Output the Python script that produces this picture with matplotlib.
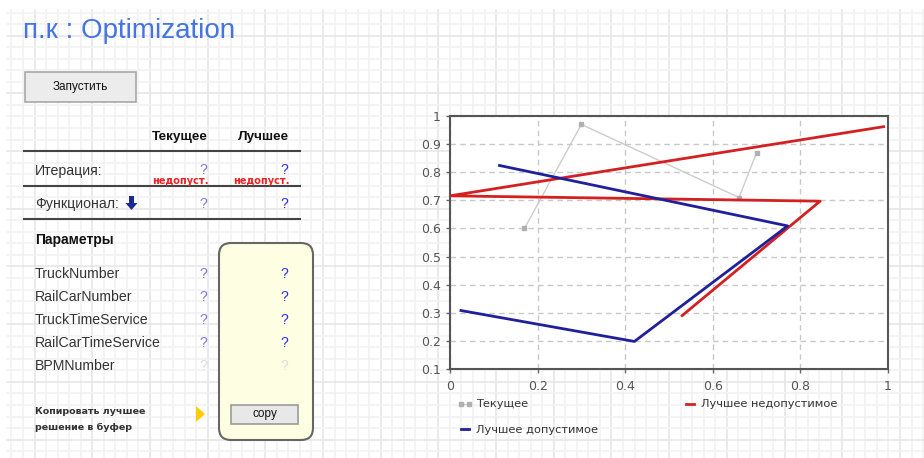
import numpy as np
import matplotlib
matplotlib.use("Agg")
import matplotlib.pyplot as plt
from matplotlib.patches import Rectangle, FancyBboxPatch, Polygon

# chart data
current_x = [0.17, 0.30, 0.66, 0.70]
current_y = [0.60, 0.97, 0.71, 0.87]
best_infeasible_x = [0.53, 0.845, 0.0, 0.99]
best_infeasible_y = [0.29, 0.697, 0.716, 0.962]
best_feasible_x = [0.113, 0.771, 0.421, 0.025]
best_feasible_y = [0.824, 0.609, 0.198, 0.308]

x_ticks = [0, 0.2, 0.4, 0.6, 0.8, 1]
x_tick_labels = ["0", "0.2", "0.4", "0.6", "0.8", "1"]
y_ticks = [0.1, 0.2, 0.3, 0.4, 0.5, 0.6, 0.7, 0.8, 0.9, 1]
y_tick_labels = ["0.1", "0.2", "0.3", "0.4", "0.5", "0.6", "0.7", "0.8", "0.9", "1"]

legend_labels = ["Текущее", "Лучшее допустимое", "Лучшее недопустимое"]

# left panel texts
title = "п.к : Optimization"
run_label = "Запустить"
col_headers = ["Текущее", "Лучшее"]
parameters = ["TruckNumber", "RailCarNumber", "TruckTimeService",
              "RailCarTimeService", "BPMNumber"]

W, H = 924, 458
fig = plt.figure(figsize=(W / 100, H / 100), dpi=100)
fig.patch.set_facecolor("white")

# background canvas in pixel coordinates
bg = fig.add_axes([0, 0, 1, 1])
bg.set_xlim(0, W)
bg.set_ylim(H, 0)
bg.axis("off")

step = 11.54
xs = np.arange(34.5 - 2 * step, W, step)
ys = np.arange(12.6, H, step)
for i, x in enumerate(xs):
    major = (i - 2) % 5 == 0
    bg.plot([x, x], [10, H], color="#e6e6e6" if major else "#f2f2f2",
            lw=1.2, zorder=0)
for i, y in enumerate(ys):
    major = (i - 2) % 5 == 0
    bg.plot([7, W], [y, y], color="#e6e6e6" if major else "#f2f2f2",
            lw=1.2, zorder=0)

# title
bg.text(23, 31, title, fontsize=20, color="#4473e3", va="center",
        family="Liberation Sans")

# run button
bg.add_patch(Rectangle((25, 72), 111, 30, facecolor="#ececec",
                       edgecolor="#a8a8a8", lw=1.2, zorder=2))
bg.text(80.5, 87, run_label, fontsize=8.5, ha="center", va="center",
        family="Liberation Sans", color="#111111", zorder=3)

# table header
bg.text(180, 137, col_headers[0], fontsize=9.7, fontweight="bold",
        ha="center", va="center", family="Liberation Sans", color="#111111")
bg.text(263, 137, col_headers[1], fontsize=9.7, fontweight="bold",
        ha="center", va="center", family="Liberation Sans", color="#111111")
for y in [151, 186, 219]:
    bg.plot([24, 300], [y, y], color="#444444", lw=1.5, zorder=2)

label_kw = dict(fontsize=10.2, va="center", family="Liberation Sans",
                color="#333333")
q_cur = "#7777dd"
q_best = "#2a2aff"
q_kw = dict(fontsize=10, va="center", ha="center", family="Liberation Sans")

bg.text(35, 171, "Итерация:", **label_kw)
bg.text(203, 170, "?", color=q_cur, **q_kw)
bg.text(284, 170, "?", color=q_best, **q_kw)
for cx in [180, 261]:
    bg.text(cx, 181, "недопуст.", fontsize=7, fontweight="bold",
            color="#ee2020", ha="center", va="center",
            family="DejaVu Sans")

bg.text(35, 204, "Функционал:", **label_kw)
bg.add_patch(Polygon([[129, 196], [134, 196], [134, 203], [137.5, 203],
                      [131.5, 210], [125.5, 203], [129, 203]],
                     closed=True, facecolor="#1a2a9a", edgecolor="none"))
bg.text(203, 204, "?", color=q_cur, **q_kw)
bg.text(284, 204, "?", color=q_best, **q_kw)

bg.text(35, 240, "Параметры", fontsize=10, fontweight="bold", va="center",
        family="Liberation Sans", color="#111111")

# yellow box
bg.add_patch(FancyBboxPatch((219, 243), 94, 197,
                            boxstyle="round,pad=0,rounding_size=12",
                            facecolor="#fefee3", edgecolor="#666666",
                            lw=1.5, zorder=1))

for i, name in enumerate(parameters):
    y = 274 + i * 23
    bg.text(35, y, name, **label_kw)
    last = i == len(parameters) - 1
    bg.text(203, y, "?", color="#dddddd" if last else q_cur, zorder=3, **q_kw)
    bg.text(284, y, "?", color="#dddddd" if last else q_best, zorder=3, **q_kw)

# copy button
bg.add_patch(Rectangle((231, 405), 67, 19, facecolor="#e8e8e8",
                       edgecolor="#9a9a9a", lw=1.2, zorder=2))
bg.text(264.5, 414.5, "copy", fontsize=8.5, ha="center", va="center",
        family="Liberation Sans", color="#111111", zorder=3)
bg.add_patch(Polygon([[196, 406], [196, 422], [205, 414]], closed=True,
                     facecolor="#ffcc00", edgecolor="none"))
bg.text(35, 412, "Копировать лучшее", fontsize=6.8, fontweight="bold",
        va="center", family="DejaVu Sans", color="#333333")
bg.text(35, 427, "решение в буфер", fontsize=6.8, fontweight="bold",
        va="center", family="DejaVu Sans", color="#333333")

# chart
ax = fig.add_axes([450 / W, (H - 369) / H, 438 / W, 253 / H])
ax.set_facecolor("white")
ax.set_xlim(0, 1)
ax.set_ylim(0.1, 1)
ax.set_xticks(x_ticks)
ax.set_xticklabels(x_tick_labels)
ax.set_yticks(y_ticks)
ax.set_yticklabels(y_tick_labels)
ax.grid(True, color="#c8c8c8", linestyle=(0, (4, 3)), lw=1)
ax.tick_params(colors="#666666", labelsize=9, length=3, width=1,
               labelcolor="#555555")
ax.tick_params(axis="x", pad=5)
for sp in ax.spines.values():
    sp.set_color("#555555")
    sp.set_linewidth(1.5)

l_cur, = ax.plot(current_x, current_y, color="#cccccc", lw=1,
                 marker="s", markersize=3, markerfacecolor="#b0b0b0",
                 markeredgecolor="#b0b0b0", zorder=3)
l_inf, = ax.plot(best_infeasible_x, best_infeasible_y, color="#d42020",
                 lw=2, zorder=4)
l_fea, = ax.plot(best_feasible_x, best_feasible_y, color="#20209a",
                 lw=2, zorder=5)

ax.legend([l_cur, l_fea, l_inf], legend_labels, ncol=2, frameon=False,
          loc="upper left", bbox_to_anchor=(-0.005, -0.08),
          fontsize=8.2, handlelength=1.3, handletextpad=0.3,
          columnspacing=7.4, labelspacing=1.35, numpoints=2,
          labelcolor="#333333")

fig.savefig("out.png", dpi=100, facecolor="white")
